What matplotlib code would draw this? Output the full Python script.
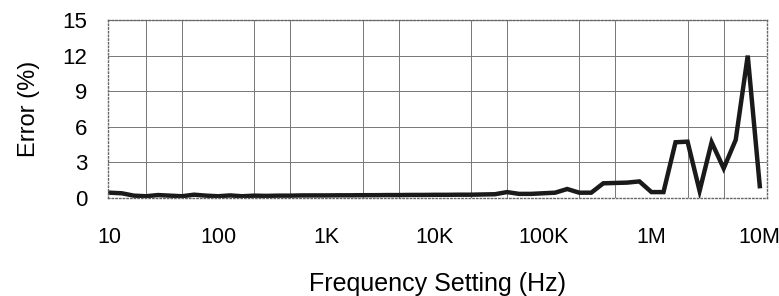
import numpy as np
import matplotlib.pyplot as plt

plt.rcParams['font.family'] = ['Liberation Sans', 'DejaVu Sans']

# categories: 10, 20, ..., 90, 100, 200, ... 10M (evenly spaced, Excel style)
freq_labels = ['10', '100', '1K', '10K', '100K', '1M', '10M']
label_idx = [0, 9, 18, 27, 36, 45, 54]

error_pct = [
    0.45, 0.40, 0.20, 0.15, 0.25, 0.20, 0.15, 0.28, 0.20,    # 10 .. 90
    0.15, 0.22, 0.15, 0.20, 0.18, 0.20, 0.20, 0.22, 0.22,    # 100 .. 900
    0.22, 0.23, 0.23, 0.24, 0.24, 0.25, 0.25, 0.26, 0.26,    # 1K .. 9K
    0.27, 0.27, 0.28, 0.28, 0.30, 0.32, 0.50, 0.35, 0.35,    # 10K .. 90K
    0.40, 0.45, 0.76, 0.45, 0.45, 1.24, 1.27, 1.30, 1.40,    # 100K .. 900K
    0.50, 0.50, 4.70, 4.75, 0.60, 4.70, 2.50, 4.90, 12.0,    # 1M .. 9M
    1.00,                                                   # 10M
]

x = np.arange(len(error_pct))

fig = plt.figure(figsize=(7.79, 2.96), dpi=100)
ax = fig.add_axes([0.1386, 0.331, 0.846, 0.6014])

ax.plot(x, error_pct, color='#1a1a1a', lw=3.2, solid_joinstyle='miter')

ax.set_xlim(-0.15, 54.6)
ax.set_ylim(0, 15)
ax.set_yticks([0, 3, 6, 9, 12, 15])
ax.set_xticks(label_idx)
ax.set_xticklabels(freq_labels)
ax.set_xticks(np.arange(3, 55, 3), minor=True)

ax.grid(True, which='minor', axis='x', color='#777777', lw=0.7)
ax.grid(True, which='major', axis='y', color='#777777', lw=0.7)
ax.tick_params(which='both', length=0)
ax.tick_params(axis='y', labelsize=16, pad=15)
ax.tick_params(axis='x', labelsize=15.5, pad=21)

for s in ax.spines.values():
    s.set_color('#666666')
    s.set_linestyle(':')
    s.set_linewidth(1.0)

ax.set_ylabel('Error (%)', fontsize=17, labelpad=16)
ax.set_xlabel('Frequency Setting (Hz)', fontsize=18, labelpad=17)

fig.savefig('out.png', dpi=100)
